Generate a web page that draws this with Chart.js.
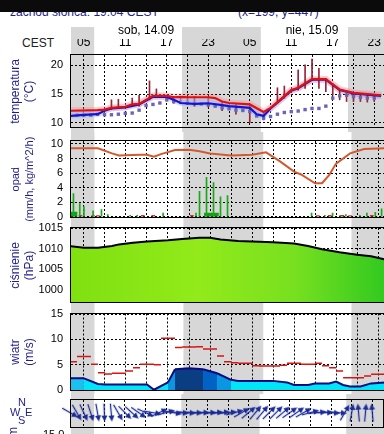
<!DOCTYPE html>
<html>
<head>
<meta charset="utf-8">
<script src="https://cdn.jsdelivr.net/npm/chart.js@4.4.1/dist/chart.umd.min.js"></script>
<style>
  body { margin: 0; width: 384px; height: 434px; overflow: hidden; background: #fff; position: relative; font-family: "Liberation Sans", Arial, sans-serif; }
  canvas { position: absolute; left: 0; }
  .txt { position: absolute; white-space: nowrap; line-height: 1; }
</style>
</head>
<body>
<div class="txt" style="left:10px;top:6px;font-size:12px;color:#1e1e8c">zachód słońca: 19:04 CEST</div>
<div class="txt" style="left:238px;top:6px;font-size:12px;color:#1e1e8c">(x=199, y=447)</div>
<div style="position:absolute;left:0;top:0;width:384px;height:12px;background:#0b0b0b"></div>
<div class="txt" style="left:22px;top:37px;font-size:12px;color:#222">CEST</div>

<canvas id="tempChart" width="390" height="115" style="top:17px"></canvas>
<canvas id="rainChart" width="390" height="90" style="top:132px"></canvas>
<canvas id="pressChart" width="390" height="86" style="top:222px"></canvas>
<canvas id="windChart" width="390" height="86" style="top:308px"></canvas>
<canvas id="dirChart" width="390" height="40" style="top:394px"></canvas>

<div class="txt" style="left:18px;top:397px;font-size:11px;color:#1e1e8c">N</div>
<div class="txt" style="left:10px;top:407px;font-size:11px;color:#1e1e8c">W</div>
<div class="txt" style="left:25px;top:407px;font-size:11px;color:#1e1e8c">E</div>
<div class="txt" style="left:18px;top:415px;font-size:11px;color:#1e1e8c">S</div>
<div class="txt" style="left:8px;top:426px;font-size:12px;color:#1e1e8c;transform:rotate(-90deg)">m</div>
<div class="txt" style="left:43px;top:429px;font-size:11px;color:#000">15.0</div>

<script>
let tempChart, rainChart, pressChart, windChart, dirChart;

const FONT = '"Liberation Sans", Arial, sans-serif';
const NAVY = '#1e1e8c';

// time axis: hours since sob 14.09 00:00
const X_MIN = 3.15, X_MAX = 48.7;
const TICK_HOURS = [5, 8, 11, 14, 17, 20, 23, 26, 29, 32, 35, 38, 41, 44, 47];
const TICK_LABELS = ['05', '', '11', '', '17', '', '23', '', '05', '', '11', '', '17', '', '23'];
const DAY_HOURS = [14, 38];
const DAY_LABELS = ['sob, 14.09', 'nie, 15.09'];
const NIGHTS = [[3, 6.5], [19.2, 30.6], [43.2, 49]];

// temperatura
const tempHours = [3, 7, 8, 9, 11, 12, 13, 14, 15, 17, 18, 19, 20, 23, 24, 25, 26, 29, 31, 32, 33, 35, 36, 38, 40, 41, 42, 44, 48];
const tempValues = [12.1, 12.2, 12.3, 12.6, 12.8, 13.2, 13.3, 14.0, 14.7, 14.7, 14.45, 14.5, 14.45, 14.45, 14.3, 13.7, 13.45, 13.2, 11.9, 12.6, 13.6, 15.7, 16.1, 17.6, 17.6, 16.7, 15.8, 15.2, 14.8];
const feltHours = [3, 5, 7, 8, 9, 11, 13, 15, 17, 18, 19, 21, 23, 25, 26, 29, 30, 31, 32, 33, 35, 36, 38, 40, 41, 42, 44, 48];
const feltValues = [11.2, 11.4, 11.5, 12.1, 12.5, 12.7, 13.2, 14.55, 14.5, 14.0, 13.45, 13.3, 13.4, 13.07, 12.9, 12.6, 11.5, 11.2, 12.5, 13.5, 15.6, 16.0, 17.5, 17.5, 16.6, 15.7, 15.1, 14.7];
const dewHours = [4, 5, 6, 7, 8, 9, 10, 11, 12, 13, 14, 15, 16, 17, 18, 19, 20, 21, 22, 23, 24, 25, 26, 27, 28, 29, 30, 31, 32, 33, 34, 35, 36, 37, 38, 39, 40, 41, 42, 43, 44, 45, 46, 47];
const dewValues = [11.35, 11.35, 11.35, 11.5, 11.4, 11.4, 11.5, 11.65, 11.7, 12.2, 13.0, 13.2, 13.45, 14.0, 13.7, 13.6, 13.45, 13.35, 13.3, 13.15, 12.9, 12.6, 12.45, 12.2, 12.15, 11.95, 11.2, 10.8, 11.1, 11.5, 11.8, 11.95, 12.05, 12.3, 12.5, 12.5, 12.9, 14.3, 14.7, 14.8, 14.55, 14.4, 14.3, 14.3];
const spreadHours = [9, 10, 12, 13, 14.5, 15.5, 17, 18, 19, 20, 21, 23, 25, 27, 29, 31, 33, 34, 36, 37, 38, 39, 40, 41, 42, 43, 44, 45, 46, 47];
const spreadLow = [12.3, 12.6, 12.9, 12.9, 14.0, 14.5, 13.8, 13.4, 13.3, 13.2, 12.9, 12.7, 12.1, 11.5, 10.0, 10.5, 13.7, 14.3, 15.7, 16.0, 17.6, 16.0, 15.4, 14.8, 14.0, 13.7, 13.7, 13.7, 13.6, 13.7];
const spreadHigh = [14.0, 14.1, 14.3, 14.8, 17.3, 15.9, 14.8, 14.6, 14.6, 14.5, 14.55, 14.4, 13.6, 13.3, 13.2, 11.9, 16.1, 16.4, 19.2, 20.1, 21.1, 19.5, 17.7, 16.8, 15.7, 15.1, 14.95, 14.8, 14.8, 14.8];
const TEMP_TICKS = [10, 15, 20];

// opad
const cloudHours = [3, 7, 9, 10, 13, 14, 15, 16, 18, 20, 21.5, 23, 26, 29, 31, 33, 35, 36, 38, 39, 40, 41, 43, 45, 48];
const cloudValues = [9.4, 9.4, 8.7, 8.4, 8.5, 8.5, 8.25, 8.6, 9.15, 9.2, 9.0, 8.7, 8.4, 8.5, 8.85, 7.6, 6.2, 5.8, 4.6, 4.6, 5.7, 7.3, 8.7, 9.3, 9.4];
const rainHours = [3.5, 4.4, 5, 6.3, 7.5, 8.4, 11.6, 12.6, 16.3, 21.0, 21.5, 22.5, 23.5, 24.5, 25.5, 37.5, 39.4, 40.5, 41.6, 42.4, 44.4, 45.4, 46.6, 47.5];
const rainValues = [3.2, 1.8, 1.4, 0.8, 1.0, 0.3, 0.2, 0.2, 0.5, 0.5, 3.5, 5.4, 4.7, 2.75, 2.9, 0.5, 0.2, 0.5, 0.2, 0.3, 0.2, 0.5, 0.6, 1.1];
const showerHours = [3.5, 22.7, 23.7];
const showerValues = [0.65, 0.5, 0.5];
const snowHours = [4.5, 6.3, 7, 13.4, 14.9, 20.4, 38.4, 40.1, 41.9, 43, 46.1];
const snowValues = [0.2, 0.15, 0.15, 0.2, 0.2, 0.2, 0.15, 0.2, 0.2, 0.15, 0.2];
const RAIN_TICKS = [0, 2, 4, 6, 8, 10];

// ciśnienie
const pressHours = [3, 5, 7, 9, 10, 12, 14, 17, 19, 21.5, 23, 24.5, 27, 32, 35, 37, 39, 41.5, 44, 46, 48];
const pressValues = [1010.6, 1010.2, 1010.2, 1010.6, 1011, 1011.4, 1011.7, 1012, 1012.3, 1012.6, 1012.6, 1012.2, 1011.8, 1011.5, 1011.2, 1010.6, 1009.8, 1009.1, 1008.5, 1008.1, 1007.3];
const PRESS_TICKS = [1000, 1005, 1010, 1015];

// wiatr
const windHours = [3, 5, 7, 8, 14, 15, 17, 18, 20, 22, 24, 26, 27, 32, 34, 35, 37, 38, 40, 41, 42, 43, 44.5, 46, 48];
const windValues = [2.3, 2.3, 1.2, 1.1, 1.1, 0.05, 1.5, 4.1, 4.3, 4.1, 3.3, 2.0, 1.8, 1.8, 1.5, 1.0, 1.0, 1.3, 1.3, 1.65, 1.0, 0.7, 0.7, 1.3, 1.5];
const gustHours = [3, 4, 5, 6, 7, 8, 9, 10, 11, 12, 13, 14, 15, 16, 17, 18, 19, 20, 21, 22, 23, 24, 25, 26, 27, 28, 29, 30, 31, 32, 33, 34, 35, 36, 37, 38, 39, 40, 41, 42, 43, 44, 45, 46, 47];
const gustValues = [5.6, 6.6, 6.6, 5.1, 3.4, 3.15, 3.3, 3.3, 3.75, 4.4, 5.1, 5.1, 5.0, 10.2, 10.2, 8.4, 8.5, 8.5, 8.55, 8.1, 8.1, 6.7, 5.6, 5.4, 5.3, 5.3, 4.8, 4.75, 4.75, 4.75, 4.9, 5.3, 5.3, 5.1, 5.1, 5.3, 4.8, 4.4, 3.75, 2.4, 2.4, 2.4, 2.75, 3.1, 3.1];
const WIND_TICKS = [0, 5, 10, 15];

// kierunek wiatru (strzałka, stopnie: 0 = na wschód, 90 = na południe)
const dirHours = gustHours;
const dirAngles = [30, 60, 65, 72, 80, 88, 85, 60, 45, 42, 35, 25, 10, -25, -15, 10, 5, 5, 3, 0, 0, -3, -5, -5, -15, -30, -40, -50, -50, -45, -45, -40, -35, -35, -30, -15, -5, 0, 5, 5, -60, -80, -95, -85, -95];

function windColor(v) {
    if (v >= 4) return '#0b3d82';
    if (v >= 3.5) return '#0062c4';
    if (v >= 2.5) return '#0a96e0';
    if (v >= 2) return '#1cc0ee';
    return '#00e6f8';
}

function points(hours, values) {
    return hours.map((h, i) => ({ x: h, y: values[i] }));
}

const nightBands = {
    id: 'nightBands',
    beforeDraw(chart, args, opts) {
        const { ctx, chartArea, scales: { x } } = chart;
        const top = opts.top || 0;
        ctx.save();
        ctx.fillStyle = '#d7d7d7';
        NIGHTS.forEach(([a, b]) => {
            const x0 = Math.max(x.getPixelForValue(a), chartArea.left);
            const x1 = x.getPixelForValue(b);
            ctx.fillRect(x0, top, x1 - x0, chart.height - top);
        });
        ctx.restore();
    }
};

const frame = {
    id: 'frame',
    afterDraw(chart) {
        const { ctx, chartArea: a } = chart;
        ctx.save();
        ctx.strokeStyle = '#000';
        ctx.lineWidth = 1;
        ctx.strokeRect(Math.round(a.left) - 0.5, Math.round(a.top) - 0.5, Math.round(a.right - a.left), Math.round(a.bottom - a.top));
        ctx.restore();
    }
};

function timeAxis(showLabels) {
    return {
        type: 'linear',
        position: showLabels ? 'top' : 'bottom',
        min: X_MIN,
        max: X_MAX,
        offset: false,
        weight: 0,
        afterBuildTicks: s => { s.ticks = TICK_HOURS.map(v => ({ value: v })); },
        afterFit: s => { s.height = showLabels ? 16 : 0; s.paddingLeft = 0; s.paddingRight = 0; },
        ticks: {
            display: showLabels, autoSkip: false, maxRotation: 0, padding: 5, color: '#000',
            font: { family: FONT, size: 12 },
            callback: (v, i) => TICK_LABELS[i]
        },
        grid: { color: '#000', drawTicks: false, offset: false },
        border: { display: false, dash: [2, 2] }
    };
}

// second top axis with the day names
function dayAxis() {
    return {
        type: 'linear',
        position: 'top',
        min: X_MIN,
        max: X_MAX,
        offset: false,
        weight: 1,
        afterBuildTicks: s => { s.ticks = DAY_HOURS.map(v => ({ value: v })); },
        afterFit: s => { s.height = 22; s.paddingLeft = 0; s.paddingRight = 0; },
        ticks: {
            autoSkip: false, maxRotation: 0, padding: 1, color: '#000',
            font: { family: FONT, size: 12 },
            callback: (v, i) => DAY_LABELS[i]
        },
        grid: { display: false, drawOnChartArea: false, drawTicks: false },
        border: { display: false }
    };
}

function valueAxis(min, max, ticks, title, titleSize) {
    return {
        min: min,
        max: max,
        afterBuildTicks: s => { s.ticks = ticks.map(v => ({ value: v })); },
        afterFit: s => { s.width = 71; s.paddingTop = 0; s.paddingBottom = 0; },
        ticks: { padding: 8, autoSkip: false, color: '#000', font: { family: FONT, size: 11 }, callback: v => String(v) },
        grid: { color: '#000', drawTicks: false },
        border: { display: false, dash: [2, 2] },
        title: {
            display: !!title, text: title, color: NAVY,
            font: { family: FONT, size: titleSize || 12, lineHeight: '14px' },
            padding: { top: 9, bottom: 0 }
        }
    };
}

function baseOptions(padTop, padBottom, showLabels, yAxis, above, bandTop) {
    const x = timeAxis(showLabels);
    if (above) { x.z = 1; yAxis.z = 1; }
    const scales = { x: x, y: yAxis };
    if (showLabels) scales.x2 = dayAxis();
    return {
        responsive: false,
        animation: false,
        events: [],
        layout: { padding: { top: padTop, bottom: padBottom, left: 0, right: 0 } },
        plugins: { legend: { display: false }, tooltip: { enabled: false }, nightBands: { top: bandTop || 0 } },
        scales: scales
    };
}

function makeArrow(len) {
    const c = document.createElement('canvas');
    c.width = len;
    c.height = 9;
    const g = c.getContext('2d');
    g.strokeStyle = '#1a2a96';
    g.fillStyle = '#1a2a96';
    g.lineWidth = 1.3;
    g.beginPath(); g.moveTo(0, 4.5); g.lineTo(len - 5, 4.5); g.stroke();
    g.beginPath(); g.moveTo(len, 4.5); g.lineTo(len - 6, 1.5); g.lineTo(len - 6, 7.5); g.closePath(); g.fill();
    return c;
}

function initCharts() {
    // temperatura
    tempChart = new Chart(document.getElementById('tempChart'), {
        type: 'line',
        data: {
            datasets: [
                { data: points(tempHours, tempValues), borderColor: '#e01010', borderWidth: 2.2, pointRadius: 0, order: 0 },
                { data: points(feltHours, feltValues), borderColor: '#1414d0', borderWidth: 2.2, pointRadius: 0, order: 1,
                  fill: { target: 0 }, backgroundColor: 'rgba(175,195,255,0.45)' },
                { data: points(dewHours, dewValues), showLine: false, pointStyle: 'rect', pointRadius: 2.4,
                  pointBackgroundColor: '#6a64b8', pointBorderWidth: 0, order: 2 },
                { type: 'bar', data: spreadHours.map((h, i) => ({ x: h, y: [spreadLow[i], spreadHigh[i]] })),
                  backgroundColor: '#9b2335', barThickness: 1, grouped: false, order: 3 },
                { data: points(tempHours, tempValues), borderColor: 'rgba(255,120,120,0.3)', borderWidth: 7, pointRadius: 0, order: 4 },
                { data: points(feltHours, feltValues), borderColor: 'rgba(130,170,255,0.3)', borderWidth: 6, pointRadius: 0, order: 5 }
            ]
        },
        options: baseOptions(0, 1, true, valueAxis(9.1, 21.8, TEMP_TICKS, ['temperatura', '(°C)']), false, 10),
        plugins: [nightBands, frame]
    });

    // opad
    rainChart = new Chart(document.getElementById('rainChart'), {
        type: 'line',
        data: {
            datasets: [
                { data: points(cloudHours, cloudValues), borderColor: '#d25a30', borderWidth: 2, pointRadius: 0, order: 0 },
                { type: 'bar', data: points(rainHours, rainValues), backgroundColor: '#18a818', barThickness: 1, grouped: false, order: 1 },
                { type: 'bar', data: points(showerHours, showerValues), backgroundColor: '#10a010', barThickness: 7, grouped: false, order: 2 },
                { type: 'bar', data: points(snowHours, snowValues), backgroundColor: '#d03030', barThickness: 3, grouped: false, order: 3 }
            ]
        },
        options: baseOptions(9, 4.5, false, valueAxis(-0.1, 10.4, RAIN_TICKS, ['opad', '(mm/h, kg/m^2/h)'], 11), true),
        plugins: [nightBands, frame]
    });

    // ciśnienie
    pressChart = new Chart(document.getElementById('pressChart'), {
        type: 'line',
        data: {
            datasets: [{
                data: points(pressHours, pressValues),
                borderColor: '#000', borderWidth: 2, pointRadius: 0, fill: 'start',
                backgroundColor: ctx => {
                    const area = ctx.chart.chartArea;
                    if (!area) return '#88e418';
                    const g = ctx.chart.ctx.createLinearGradient(area.left, 0, area.right, 0);
                    g.addColorStop(0, '#80e010');
                    g.addColorStop(0.4, '#92ea1a');
                    g.addColorStop(0.7, '#78e020');
                    g.addColorStop(1, '#2ec820');
                    return g;
                }
            }]
        },
        options: baseOptions(6, 5, false, valueAxis(996.7, 1015, PRESS_TICKS, ['ciśnienie', '(hPa)']), true),
        plugins: [nightBands, frame]
    });

    // wiatr
    const gustPoints = [];
    gustHours.forEach((h, i) => {
        gustPoints.push({ x: h, y: gustValues[i] }, { x: h + 1, y: gustValues[i] }, { x: h + 1, y: null });
    });
    windChart = new Chart(document.getElementById('windChart'), {
        type: 'line',
        data: {
            datasets: [
                { data: gustPoints, borderColor: '#d81414', borderWidth: 1.5, pointRadius: 0, spanGaps: false, order: 0 },
                { data: points(windHours, windValues), borderColor: '#0a0a80', borderWidth: 2, pointRadius: 0,
                  fill: 'origin', backgroundColor: '#00e6f8', order: 1,
                  segment: { backgroundColor: c => windColor((c.p0.parsed.y + c.p1.parsed.y) / 2) } }
            ]
        },
        options: baseOptions(5.5, 3.5, false, valueAxis(-0.1, 15.1, WIND_TICKS, ['wiatr', '(m/s)']), true),
        plugins: [nightBands, frame]
    });

    // kierunek wiatru
    dirChart = new Chart(document.getElementById('dirChart'), {
        type: 'line',
        data: {
            datasets: [{
                data: dirHours.map(h => ({ x: h, y: 0 })),
                showLine: false, pointStyle: makeArrow(18), pointRadius: 5,
                pointRotation: dirAngles, clip: false
            }]
        },
        options: baseOptions(2, 5, false, valueAxis(-1.1, 0.9, [], null), false),
        plugins: [nightBands, frame]
    });
}

initCharts();
</script>
</body>
</html>
